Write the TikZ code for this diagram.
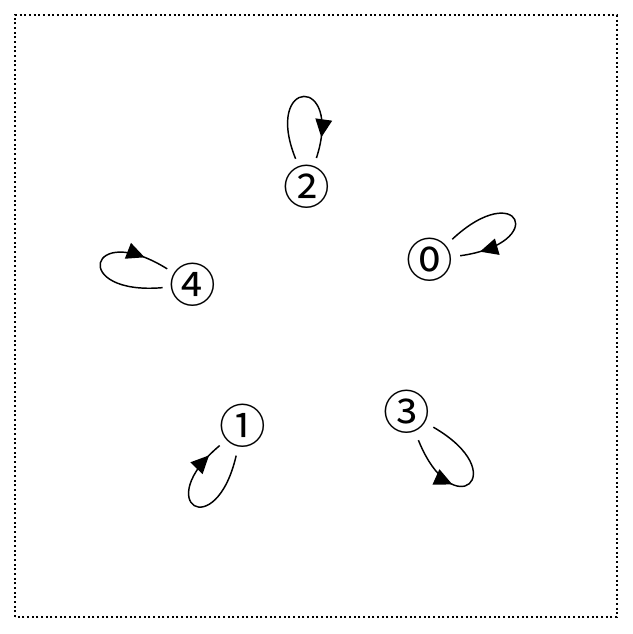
\documentclass[tikz,border=0pt]{standalone}
\usepackage{fontspec}
\newfontfamily\cjk{Noto Sans CJK JP}
\usetikzlibrary{arrows.meta,decorations.markings}

\begin{document}
\begin{tikzpicture}[
                x=0.75pt, y=0.75pt,
                state/.style={circle, inner sep=0pt, outer sep=-1pt,
                font=\cjk\fontsize{35}{35}\selectfont},
                selfloop/.style={line width=1.1pt, postaction={decorate, decoration={markings,
                mark=at position #1 with {\arrow{Triangle[length=13.5pt,width=12.5pt]}}}}},
                frame/.style={line width=1.2pt, dash pattern=on 1.4pt off 2.1pt}
            ]
        \useasboundingbox (0,0) rectangle (632,634);
        \draw[frame] (15,17) rectangle (617,619);

        \node[state] (s0) at (430,374) {⓪};
        \node[state] (s1) at (243,208) {①};
        \node[state] (s2) at (307,447) {②};
        \node[state] (s3) at (407,222) {③};
        \node[state] (s4) at (193,349) {④};

        \draw[selfloop=0.85] (s2) to[out=112, in=72,  distance=66pt] (s2);
        \draw[selfloop=0.86] (s0) to[out=43,  in=8,   distance=68pt] (s0);
        \draw[selfloop=0.83] (s4) to[out=185, in=148, distance=70pt] (s4);
        \draw[selfloop=0.90] (s1) to[out=257, in=220, distance=68pt] (s1);
        \draw[selfloop=0.38] (s3) to[out=292, in=330, distance=70pt] (s3);
\end{tikzpicture}
\end{document}
